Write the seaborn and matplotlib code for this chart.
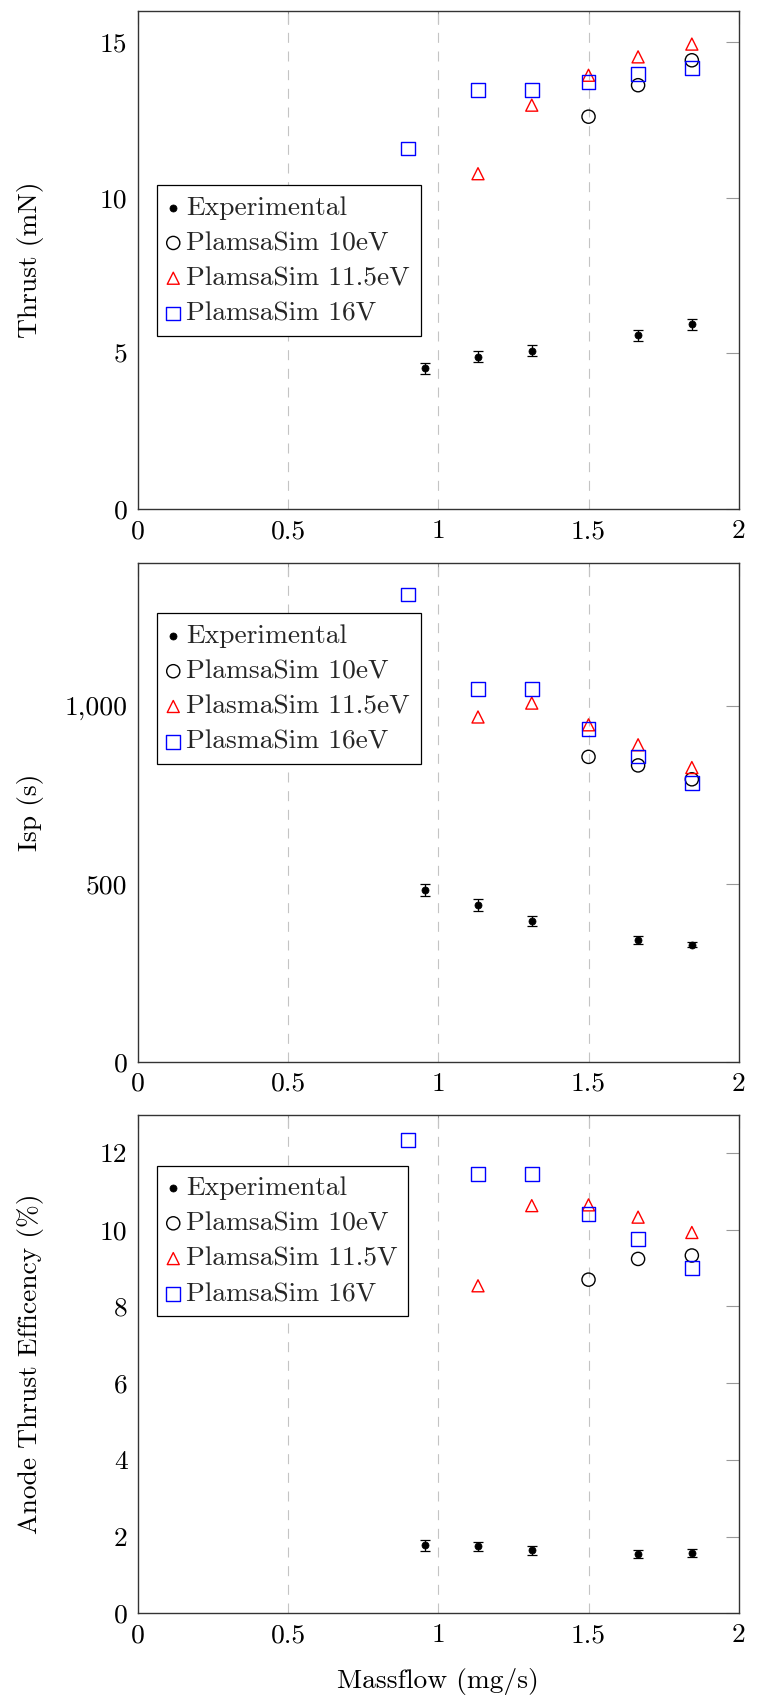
import numpy as np
import pandas as pd
import matplotlib
matplotlib.use("Agg")
import matplotlib.pyplot as plt
from matplotlib.ticker import FuncFormatter, MultipleLocator
import seaborn as sns

sns.set_theme(style="white")
plt.rcParams["font.family"] = ["cmr10", "DejaVu Serif"]
plt.rcParams["mathtext.fontset"] = "cm"
plt.rcParams["axes.formatter.use_mathtext"] = True
plt.rcParams["axes.unicode_minus"] = False

# Mass flow rates (mg/s)
mf_exp = [0.956, 1.132, 1.311, 1.665, 1.844]
mf_10 = [1.5, 1.665, 1.844]
mf_115 = [1.132, 1.311, 1.5, 1.665, 1.844]
mf_16 = [0.9, 1.132, 1.311, 1.5, 1.665, 1.844]

# Thrust (mN)
thrust_exp = [4.52, 4.90, 5.09, 5.58, 5.94]
thrust_exp_err = [0.18, 0.18, 0.17, 0.17, 0.17]
thrust_10 = [12.60, 13.61, 14.41]
thrust_115 = [10.77, 12.97, 13.93, 14.52, 14.93]
thrust_16 = [11.58, 13.45, 13.45, 13.72, 13.98, 14.16]

# Specific impulse (s)
isp_exp = [482, 440, 396, 342, 329]
isp_exp_err = [18, 16, 14, 11, 8]
isp_10 = [856, 832, 793]
isp_115 = [968, 1007, 946, 890, 826]
isp_16 = [1312, 1047, 1047, 934, 857, 783]

# Anode thrust efficiency (%)
eff_exp = [1.77, 1.75, 1.64, 1.55, 1.58]
eff_exp_err = [0.14, 0.12, 0.11, 0.10, 0.10]
eff_10 = [8.70, 9.24, 9.33]
eff_115 = [8.54, 10.63, 10.65, 10.33, 9.93]
eff_16 = [12.35, 11.46, 11.46, 10.42, 9.77, 9.01]

panels = [
    dict(exp=thrust_exp, err=thrust_exp_err, s10=thrust_10, s115=thrust_115, s16=thrust_16,
         ylabel="Thrust (mN)", ymax=16, ystep=5,
         labels=["Experimental", "PlamsaSim 10eV", "PlamsaSim 11.5eV", "PlamsaSim 16V"],
         leg_y=0.650),
    dict(exp=isp_exp, err=isp_exp_err, s10=isp_10, s115=isp_115, s16=isp_16,
         ylabel="Isp (s)", ymax=1400, ystep=500,
         labels=["Experimental", "PlamsaSim 10eV", "PlasmaSim 11.5eV", "PlasmaSim 16eV"],
         leg_y=0.899),
    dict(exp=eff_exp, err=eff_exp_err, s10=eff_10, s115=eff_115, s16=eff_16,
         ylabel="Anode Thrust Efficency (%)", ymax=13, ystep=2,
         labels=["Experimental", "PlamsaSim 10eV", "PlamsaSim 11.5V", "PlamsaSim 16V"],
         leg_y=0.898),
]

fig = plt.figure(figsize=(7.6, 17.01), dpi=100)
left, width, height = 0.18158, 0.7904, 0.2931
bottoms = [0.70059, 0.37584, 0.05156]

FS = 19.8

for p, b in zip(panels, bottoms):
    ax = fig.add_axes([left, b, width, height])

    exp_df = pd.DataFrame({"mf": mf_exp, "val": p["exp"]})
    d10 = pd.DataFrame({"mf": mf_10, "val": p["s10"]})
    d115 = pd.DataFrame({"mf": mf_115, "val": p["s115"]})
    d16 = pd.DataFrame({"mf": mf_16, "val": p["s16"]})

    ax.errorbar(mf_exp, p["exp"], yerr=p["err"], fmt="none", ecolor="black",
                elinewidth=0.9, capsize=3.6, capthick=0.9, zorder=3)
    sns.scatterplot(data=exp_df, x="mf", y="val", ax=ax, marker="o", s=26,
                    color="black", edgecolor="black", linewidth=0.5,
                    label=p["labels"][0], zorder=4)
    sns.scatterplot(data=d10, x="mf", y="val", ax=ax, marker="o", s=90,
                    facecolor="none", edgecolor="black", linewidth=1.0,
                    label=p["labels"][1], zorder=4)
    sns.scatterplot(data=d115, x="mf", y="val", ax=ax, marker="^", s=75,
                    facecolor="none", edgecolor="red", linewidth=1.0,
                    label=p["labels"][2], zorder=4)
    sns.scatterplot(data=d16, x="mf", y="val", ax=ax, marker="s", s=100,
                    facecolor="none", edgecolor="blue", linewidth=1.0,
                    label=p["labels"][3], zorder=4)

    ax.set_xlim(0, 2)
    ax.set_ylim(0, p["ymax"])
    ax.xaxis.set_major_locator(MultipleLocator(0.5))
    ax.yaxis.set_major_locator(MultipleLocator(p["ystep"]))
    ax.xaxis.set_major_formatter(FuncFormatter(lambda v, pos: f"{v:g}"))
    ax.yaxis.set_major_formatter(FuncFormatter(lambda v, pos: f"{v:,.0f}"))

    ax.grid(False)
    for xv in [0.5, 1.0, 1.5]:
        ax.axvline(xv, color="#c4c4c4", lw=0.8, ls=(0, (9, 7.8)), zorder=1)

    ax.tick_params(axis="both", direction="in", length=9.4, width=0.8,
                   color="#999999", labelsize=FS, labelcolor="black",
                   top=True, right=True, pad=7.5)
    for sp in ax.spines.values():
        sp.set_color("#333333")
        sp.set_linewidth(1.0)

    ax.set_ylabel(p["ylabel"], fontsize=FS, color="black")
    ax.yaxis.set_label_coords(-0.157, 0.5)
    ax.set_xlabel("")

    leg = ax.legend(loc="upper left", bbox_to_anchor=(0.031, p["leg_y"]),
                    fontsize=FS, frameon=True, fancybox=False, framealpha=1,
                    edgecolor="black", handlelength=0.45, handletextpad=0.25,
                    borderpad=0.38, labelspacing=0.4, borderaxespad=0.0)
    leg.get_frame().set_linewidth(0.9)

ax.set_xlabel("Massflow (mg/s)", fontsize=FS, color="black")
ax.xaxis.set_label_coords(0.5, -0.110)

fig.savefig("out.png", dpi=100)
